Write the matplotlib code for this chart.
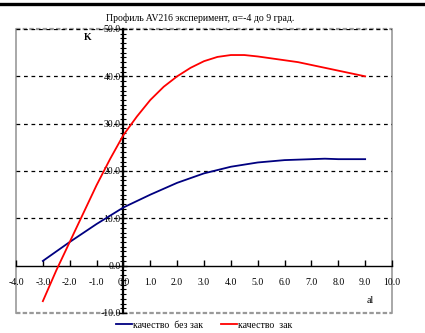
import matplotlib
matplotlib.use("Agg")
import matplotlib.pyplot as plt
from matplotlib.lines import Line2D
from matplotlib.ticker import MultipleLocator, FormatStrFormatter

plt.rcParams['font.family'] = ['Liberation Serif', 'DejaVu Serif']

alpha_blue = [-3, -2, -1, 0, 1, 2, 3, 4, 5, 6, 7, 7.5, 8, 9]
k_blue = [1.0, 5.0, 8.8, 12.3, 15.0, 17.5, 19.5, 20.9, 21.8, 22.3, 22.5, 22.6, 22.5, 22.5]

alpha_red = [-3, -2.5, -2, -1.5, -1, -0.5, 0, 0.5, 1, 1.5, 2, 2.5, 3, 3.5, 4, 4.5,
             5, 5.5, 6, 6.5, 7, 7.5, 8, 8.5, 9]
k_red = [-7.5, -1.0, 5.0, 11.0, 17.0, 22.5, 27.6, 31.5, 35.0, 37.8, 40.0, 41.8, 43.2,
         44.1, 44.5, 44.5, 44.2, 43.8, 43.4, 43.0, 42.4, 41.8, 41.2, 40.6, 40.0]

label_blue = "качество  без зак"
label_red = "качество  зак"
title = "Профиль AV216 эксперимент, α=-4 до 9 град."

W, H = 425, 333
fig = plt.figure(figsize=(W / 100, H / 100), dpi=100)
ax = fig.add_axes([16 / W, 1 - 313 / H, (392 - 16) / W, (313 - 29) / H])
ax.set_xlim(-4, 10)
ax.set_ylim(-10, 50)

# gridlines
for gy in [10, 20, 30, 40, 50]:
    ax.axhline(gy, color='black', lw=0.9, ls=(0, (3, 3)), zorder=1)

# frame
for s in ['top', 'right']:
    ax.spines[s].set_visible(False)
ax.add_line(Line2D([0, 0], [0, 1], transform=ax.transAxes, color='#999999', lw=1.2, clip_on=False, zorder=0))
ax.add_line(Line2D([1, 1], [0, 1], transform=ax.transAxes, color='#999999', lw=1.2, clip_on=False, zorder=0))
ax.add_line(Line2D([0, 1], [1, 1], transform=ax.transAxes, color='#999999', lw=1.6, ls=(0, (2, 1)), clip_on=False, zorder=0))
ax.add_line(Line2D([0, 1], [0, 0], transform=ax.transAxes, color='#999999', lw=1.6, ls=(0, (2, 1)), clip_on=False, zorder=0))

ax.spines['left'].set_position(('data', 0))
ax.spines['bottom'].set_position(('data', 0))
ax.spines['left'].set_linewidth(1.6)
ax.spines['bottom'].set_linewidth(1.0)

ax.xaxis.set_major_locator(MultipleLocator(1))
ax.yaxis.set_major_locator(MultipleLocator(10))
ax.yaxis.set_minor_locator(MultipleLocator(1))
ax.xaxis.set_major_formatter(FormatStrFormatter('%.1f'))
ax.yaxis.set_major_formatter(FormatStrFormatter('%.1f'))
ax.tick_params(axis='x', direction='in', length=4, width=1, labelsize=7, pad=9)
ax.tick_params(axis='y', which='major', direction='inout', length=6, width=1, labelsize=7, pad=-1)
ax.tick_params(axis='y', which='minor', direction='inout', length=4, width=0.8)

ax.plot(alpha_blue, k_blue, color='#000080', lw=1.3, zorder=3, label=label_blue)
ax.plot(alpha_red, k_red, color='#ff0000', lw=1.3, zorder=3, label=label_red)

ax.text(-1.34, 48.1, "K", fontsize=7, fontweight='bold', ha='center', va='center')
ax.text(9.2, -7.3, "al", fontsize=7, ha='center', va='center')

fig.text(200 / W, 1 - 18 / H, title, fontsize=7, ha='center', va='center')

fig.legend(loc='center', bbox_to_anchor=(204 / W, 1 - 325 / H), ncol=2, frameon=False,
           fontsize=7, handlelength=1.7, columnspacing=1.8, handletextpad=0.1,
           borderpad=0, borderaxespad=0)

fig.add_artist(Line2D([0, 1], [1 - 4 / H, 1 - 4 / H], transform=fig.transFigure, color='black', lw=2.4))

fig.savefig("out.png", dpi=100)
